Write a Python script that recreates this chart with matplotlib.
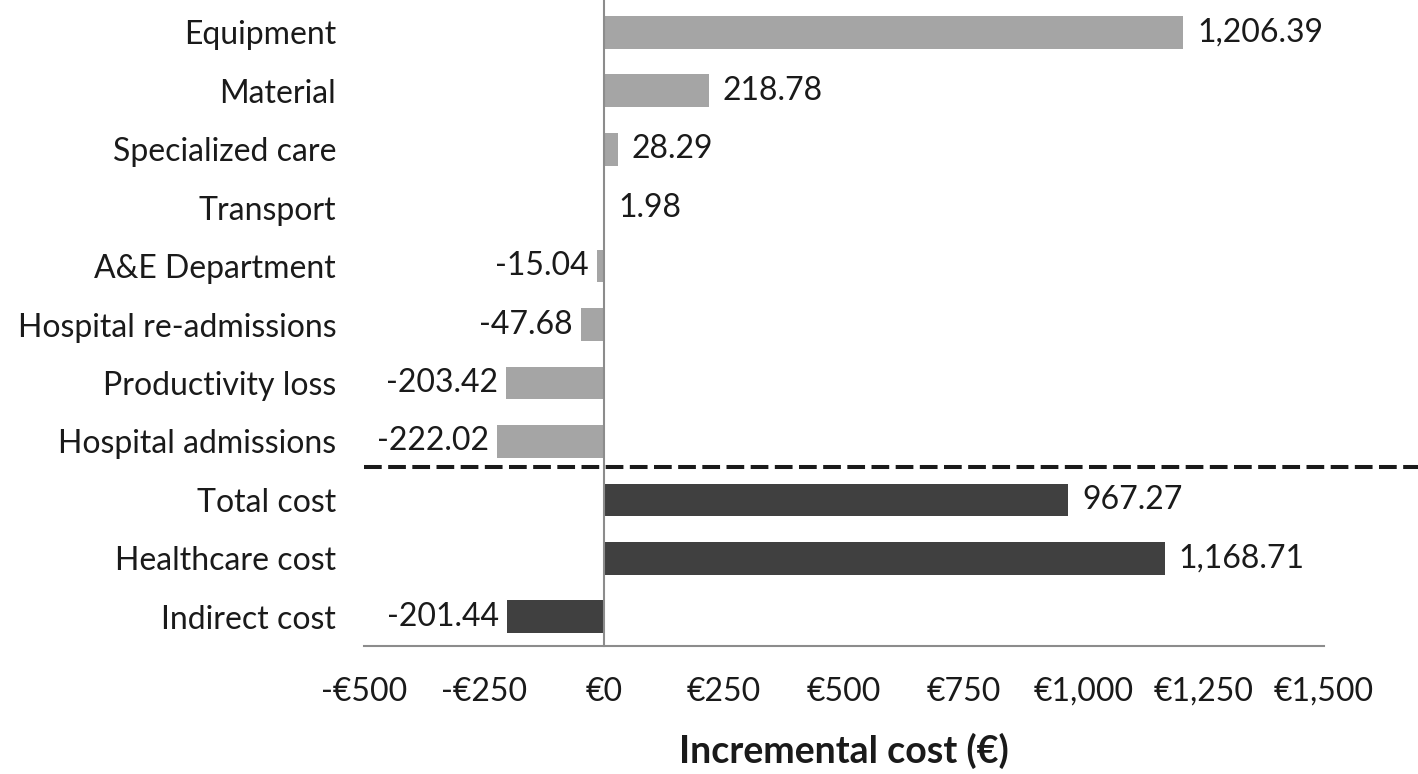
import matplotlib
matplotlib.use("Agg")
import matplotlib.pyplot as plt

categories = ["Equipment", "Material", "Specialized care", "Transport", "A&E Department",
              "Hospital re-admissions", "Productivity loss", "Hospital admissions",
              "Total cost", "Healthcare cost", "Indirect cost"]
values = [1206.39, 218.78, 28.29, 1.98, -15.04, -47.68, -203.42, -222.02,
          967.27, 1168.71, -201.44]
groups = ["item"] * 8 + ["total"] * 3
x_ticks = [-500, -250, 0, 250, 500, 750, 1000, 1250, 1500]
x_tick_labels = ["-€500", "-€250", "€0", "€250", "€500", "€750", "€1,000", "€1,250", "€1,500"]
x_title = "Incremental cost (€)"

colors = {"item": "#a5a5a5", "total": "#404040"}

plt.rcParams['font.family'] = ['Lato', 'DejaVu Sans']
FS = 23

fig = plt.figure(figsize=(14.18, 7.74), dpi=100)
ax = fig.add_axes([0.2567, 0.1654, 0.677, 0.8306])

ypos = list(range(len(categories)))
ax.barh(ypos, values, height=0.56, color=[colors[g] for g in groups], zorder=2)
ax.set_ylim(len(categories) - 0.5, -0.5)
ax.set_xlim(x_ticks[0], x_ticks[-1])

ax.set_yticks(ypos)
ax.set_yticklabels(categories, fontsize=FS, color="#1a1a1a")
ax.set_xticks(x_ticks)
ax.set_xticklabels(x_tick_labels, fontsize=FS, color="#1a1a1a")
ax.tick_params(axis="both", length=0)
ax.tick_params(axis="y", pad=20)
ax.tick_params(axis="x", pad=22)

for s in ["top", "right", "left"]:
    ax.spines[s].set_visible(False)
ax.spines["bottom"].set_color("#8c8c8c")
ax.spines["bottom"].set_linewidth(1.5)

ax.axvline(0, color="#8c8c8c", linewidth=1.5, zorder=3, ymin=0, ymax=1.005, clip_on=False)

for y, v in zip(ypos, values):
    if v >= 0:
        ax.annotate(f"{v:,.2f}", xy=(v, y), xytext=(10, 0), textcoords="offset points",
                    ha="left", va="center", fontsize=FS, color="#1a1a1a")
    else:
        ax.annotate(f"{v:,.2f}", xy=(v, y), xytext=(-6, 0), textcoords="offset points",
                    ha="right", va="center", fontsize=FS, color="#1a1a1a")

# dashed separator between items and totals
ax.plot([x_ticks[0], 1700], [7.44, 7.44], linestyle=(0, (4.4, 1.6)), color="#1a1a1a",
        linewidth=2.9, clip_on=False, zorder=4, dash_capstyle="butt")

ax.set_xlabel(x_title, fontsize=27, fontweight="bold", color="#1a1a1a", labelpad=19)

fig.savefig("out.png", dpi=100)
